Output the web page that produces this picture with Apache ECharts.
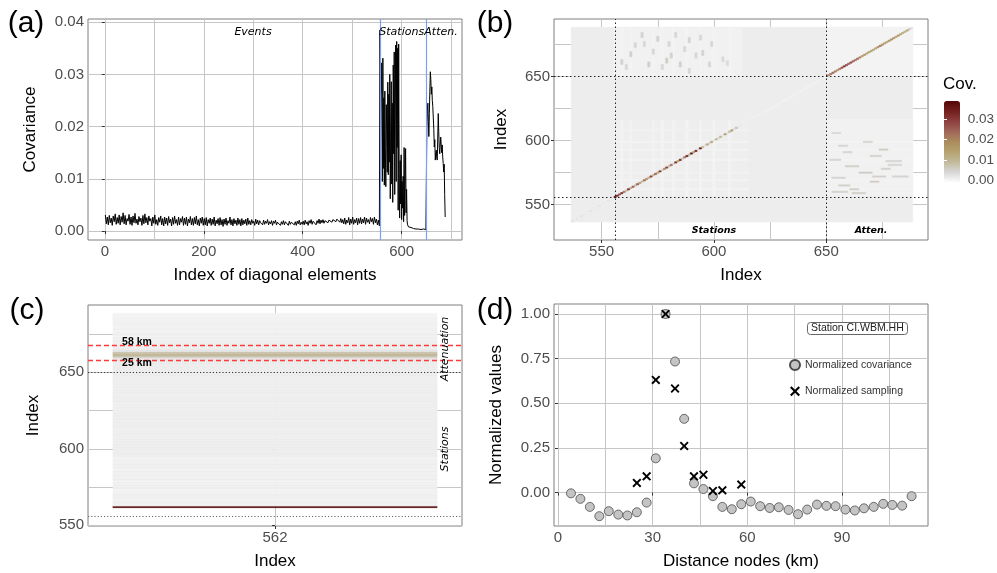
<!DOCTYPE html>
<html>
<head>
<meta charset="utf-8">
<script src="https://cdn.jsdelivr.net/npm/echarts@6/dist/echarts.min.js"></script>
<style>
html, body { margin: 0; padding: 0; background: #fff; }
#chart { width: 997px; height: 573px; }
</style>
</head>
<body>
<div id="chart"></div>
<script>
// ---------- (a) diagonal of the covariance matrix ----------
var eventsStart = 1, eventsStep = 2;
var eventsCov = [
  0.0031,0.0014,0.0027,0.0012,0.0030,0.0016,0.0025,0.0011,0.0029,0.0018,0.0033,0.0013,0.0026,0.0015,0.0031,0.0012,0.0028,0.0017,0.0035,0.0014,
  0.0030,0.0012,0.0024,0.0019,0.0032,0.0013,0.0027,0.0011,0.0029,0.0016,0.0034,0.0015,0.0023,0.0012,0.0028,0.0018,0.0025,0.0011,0.0030,0.0014,
  0.0033,0.0016,0.0026,0.0012,0.0029,0.0019,0.0024,0.0010,0.0027,0.0015,0.0031,0.0013,0.0022,0.0011,0.0026,0.0017,0.0029,0.0012,0.0024,0.0010,
  0.0027,0.0014,0.0025,0.0011,0.0028,0.0016,0.0023,0.0010,0.0026,0.0013,0.0029,0.0015,0.0022,0.0011,0.0027,0.0012,0.0024,0.0017,0.0028,0.0011,
  0.0025,0.0013,0.0027,0.0010,0.0023,0.0016,0.0028,0.0012,0.0024,0.0011,0.0026,0.0014,0.0029,0.0012,0.0022,0.0010,0.0025,0.0015,0.0027,0.0011,
  0.0024,0.0012,0.0026,0.0010,0.0022,0.0015,0.0025,0.0011,0.0023,0.0013,0.0027,0.0010,0.0021,0.0014,0.0024,0.0011,0.0026,0.0012,0.0022,0.0009,
  0.0023,0.0013,0.0025,0.0011,0.0020,0.0015,0.0027,0.0012,0.0022,0.0010,0.0024,0.0014,0.0021,0.0011,0.0025,0.0013,0.0022,0.0010,0.0024,0.0012,
  0.0021,0.0014,0.0023,0.0011,0.0025,0.0013,0.0020,0.0012,0.0022,0.0015,0.0019,0.0011,0.0023,0.0014,0.0021,0.0012,0.0020,0.0016,0.0018,0.0012,
  0.0021,0.0013,0.0019,0.0015,0.0022,0.0012,0.0018,0.0014,0.0020,0.0011,0.0019,0.0015,0.0021,0.0012,0.0017,0.0014,0.0020,0.0011,0.0018,0.0013,
  0.0020,0.0012,0.0018,0.0015,0.0021,0.0011,0.0019,0.0013,0.0017,0.0014,0.0020,0.0012,0.0018,0.0011,0.0019,0.0014,0.0021,0.0012,0.0017,0.0013,
  0.0019,0.0012,0.0021,0.0014,0.0018,0.0011,0.0020,0.0015,0.0022,0.0013,0.0019,0.0016,0.0021,0.0012,0.0020,0.0015,0.0023,0.0014,0.0021,0.0016,
  0.0022,0.0015,0.0020,0.0017,0.0023,0.0016,0.0021,0.0018,0.0024,0.0017,0.0022,0.0019,0.0025,0.0018,0.0023,0.0020,0.0022,0.0017,0.0024,0.0016,
  0.0022,0.0014,0.0025,0.0013,0.0021,0.0016,0.0026,0.0012,0.0023,0.0015,0.0027,0.0013,0.0022,0.0016,0.0025,0.0012,0.0024,0.0015,0.0026,0.0014,
  0.0023,0.0016,0.0027,0.0013,0.0025,0.0017,0.0022,0.0014,0.0026,0.0018,0.0024,0.0013,0.0027,0.0016,0.0023,0.0012,0.0021,0.0010
];
var stationsStart = 556;
var stationsCov = [
  0.0385,0.0330,0.0265,0.0322,0.0228,0.0095,0.0331,0.0120,0.0255,0.0088,
  0.0268,0.0160,0.0085,0.0242,0.0190,0.0113,0.0285,0.0108,0.0262,0.0132,
  0.0300,0.0062,0.0200,0.0286,0.0090,0.0245,0.0055,0.0318,0.0148,0.0343,
  0.0070,0.0230,0.0356,0.0095,0.0363,0.0160,0.0350,0.0040,0.0358,0.0110,
  0.0025,0.0135,0.0052,0.0146,0.0022,0.0095,0.0044,0.0105,0.0018,0.0160,
  0.0030,0.0090,0.0158,0.0035,0.0080,0.0020,0.0012,0.0010,0.0008,0.0011,
  0.0006,0.0009,0.0005,0.0007,0.0006,0.0008,0.0004,0.0006,0.0005,0.0007,
  0.0004,0.0006,0.0005,0.0004,0.0006,0.0005,0.0003,0.0005,0.0004,0.0006,
  0.0003,0.0004,0.0005,0.0003,0.0004,0.0003,0.0005,0.0003,0.0004,0.0003,
  0.0004,0.0003,0.0004,0.0003,0.0004
];
var attenStart = 651;
var attenCov = [
  0.0200,0.0232,0.0245,0.0210,0.0181,0.0225,0.0268,0.0305,0.0290,0.0262,
  0.0276,0.0250,0.0238,0.0240,0.0195,0.0161,0.0175,0.0136,0.0150,0.0155,
  0.0140,0.0136,0.0180,0.0225,0.0190,0.0160,0.0148,0.0165,0.0180,0.0178,
  0.0150,0.0165,0.0142,0.0130,0.0113,0.0128,0.0070,0.0027
];
var groupBounds = [556, 650];
var diagXTicks = [0, 200, 400, 600];
var diagXMinor = [100, 300, 500, 700];
var diagYTicks = [0, 0.01, 0.02, 0.03, 0.04];

// ---------- (b) covariance matrix, station + attenuation part ----------
// blocks: [col from, col to, row from, row to, covariance]
var hmBlocks = [
  [537, 688, 537, 688, 0.0011],
  [556, 612, 651, 688, 0.0005],
  [557, 615, 557, 615, 0.0009],
  [651, 688, 557, 616, 0.0006],
  [651, 688, 651, 688, 0.0003]
];
var stripeCols = [559, 563, 573, 577, 582, 588, 594, 600, 607];
var stripeRows = [608, 599, 593, 585, 575, 569, 562];
var stripeCov = 0.0003;
// vertical dashes above the stations: [col, row centre, covariance]
var dashesUL = [
  [559,662,0.0045],[561,658,0.0040],[563,668,0.0050],[565,675,0.0042],[568,683,0.0046],
  [569,676,0.0040],[571,660,0.0052],[573,670,0.0042],[575,680,0.0046],[577,658,0.0040],
  [579,663,0.0055],[580,676,0.0042],[581,667,0.0046],[583,683,0.0040],[585,660,0.0050],
  [587,672,0.0042],[589,679,0.0046],[589,655,0.0040],[592,667,0.0042],[594,681,0.0040],
  [595,669,0.0046],[598,660,0.0042],[599,676,0.0040],[604,664,0.0036],[606,661,0.0034]
];
// horizontal streaks right of the stations: [col from, col to, row, covariance]
var streaksLR = [
  [653,656,606,0.0040],[667,670,599,0.0050],[656,659,596,0.0045],[674,677,593,0.0055],
  [658,661,591,0.0045],[670,674,588,0.0050],[652,656,585,0.0045],[677,683,584,0.0045],
  [659,664,580,0.0055],[675,678,578,0.0050],[665,670,575,0.0055],[671,676,572,0.0050],
  [653,658,571,0.0045],[680,686,572,0.0045],[670,673,568,0.0055],[656,660,565,0.0050],
  [661,664,562,0.0055],[653,659,560,0.0050],[662,667,559,0.0055],[678,683,581,0.0045]
];
var hmTicks = [550, 600, 650];
var hmMinor = [575, 625, 675];
var covTicks = [0, 0.01, 0.02, 0.03];
var covColors = ['#fbfbfb','#d6d6d6','#c2b99a','#b5a26f','#ab8a5c','#a1665a','#8d3e3e','#731f1f','#560606'];

// ---------- (c) column of station index 562 ----------
var colStart = 562;
var colCov = [
  0.0385,
  0.0008,0.0004,0.0010,0.0006,0.0003,0.0009,0.0005,0.0011,0.0004,0.0007,
  0.0002,0.0009,0.0006,0.0010,0.0004,0.0008,0.0003,0.0011,0.0005,0.0007,
  0.0009,0.0004,0.0010,0.0006,0.0003,0.0008,0.0005,0.0011,0.0004,0.0009,
  0.0006,0.0002,0.0008,
  0.0011,0.0010,0.0011,0.0010,0.0010,0.0011,0.0010,0.0011,0.0011,0.0010,
  0.0010,0.0010,0.0010,0.0010,0.0010,0.0010,0.0010,0.0010,0.0010,0.0010,
  0.0010,0.0010,0.0010,0.0010,0.0010,0.0010,0.0010,0.0010,0.0010,0.0010,
  0.0010,0.0010,0.0010,0.0010,0.0010,0.0010,0.0010,0.0010,0.0010,0.0010,
  0.0010,0.0010,0.0010,0.0010,0.0010,0.0010,0.0010,0.0010,0.0010,0.0010,
  0.0010,0.0010,0.0010,0.0010,
  0.0011,0.0011,0.0011,0.0011,0.0011,0.0011,0.0012,0.0012,0.0014,0.0018,
  0.0055,0.0088,0.0096,0.0075,0.0025,
  0.0012,0.0009,0.0008,0.0008,0.0007,0.0008,0.0007,0.0007,0.0007,0.0006,
  0.0007,0.0007,0.0006,0.0006,0.0006,0.0005,0.0005,0.0005,0.0005,0.0004,
  0.0004,0.0004,0.0003,0.0003
];
var distRows = [668, 658];
var distLabels = ['58 km', '25 km'];

// ---------- (d) station CI.WBM.HH ----------
var distKm = [4.1,7.1,10.1,13.1,16.1,19.1,22.0,25.0,28.1,31.0,34.1,37.1,40.0,43.1,46.1,49.1,52.1,55.1,58.1,61.1,
              64.1,67.1,70.0,73.1,76.1,79.0,82.1,85.1,88.0,91.1,94.1,97.0,100.1,103.1,106.0,109.1,112.1];
var normCov = [-0.004,-0.035,-0.080,-0.132,-0.104,-0.123,-0.128,-0.110,-0.056,0.192,1.000,0.734,0.413,0.052,0.020,-0.020,-0.080,-0.093,-0.065,-0.050,
               -0.076,-0.086,-0.082,-0.097,-0.121,-0.095,-0.067,-0.074,-0.076,-0.095,-0.100,-0.088,-0.080,-0.063,-0.069,-0.073,-0.020];
var sampKm = [25.0,28.1,31.0,34.1,37.1,40.0,43.1,46.1,49.1,52.1,58.1];
var normSamp = [0.054,0.091,0.631,1.000,0.583,0.261,0.091,0.100,0.009,0.013,0.045];
var distTicks = [0, 30, 60, 90];
var distMinor = [15, 45, 75, 105];
var normTicks = [0, 0.25, 0.5, 0.75, 1];

// ---------- build series data ----------
var diagData = [];
eventsCov.forEach(function (v, i) { diagData.push([eventsStart + i * eventsStep, v]); });
stationsCov.forEach(function (v, i) { diagData.push([stationsStart + i, v]); });
attenCov.forEach(function (v, i) { diagData.push([attenStart + i, v]); });

var hmData = hmBlocks.slice();
stripeCols.forEach(function (c) {
  hmData.push([c, c, 557, 615, stripeCov]);
  hmData.push([c, c, 651, 688, stripeCov]);
});
stripeRows.forEach(function (r) {
  hmData.push([557, 615, r, r, stripeCov]);
  hmData.push([651, 688, r, r, stripeCov]);
});
dashesUL.forEach(function (d) { hmData.push([d[0], d[0], d[1] - 2, d[1] + 1, d[2]]); });
streaksLR.forEach(function (d) { hmData.push([d[0], d[1], d[2], d[2], d[3]]); });
diagData.forEach(function (d) { if (d[0] >= 537) hmData.push([d[0], d[0], d[0], d[0], d[1]]); });

var colData = colCov.map(function (v, i) { return [colStart + i, v]; });
var covData = distKm.map(function (x, i) { return [x, normCov[i]]; });
var sampData = sampKm.map(function (x, i) { return [x, normSamp[i]]; });

// ---------- styles ----------
var gridCol = '#c6c6c6', tickCol = '#333', labCol = '#4d4d4d';
var fix2 = function (v) { return v.toFixed(2); };

function mainAxis(o) {
  return {
    type: 'value', gridIndex: o.grid, position: o.pos, min: o.min, max: o.max,
    name: o.name, nameLocation: 'middle', nameGap: o.gap,
    nameTextStyle: { fontSize: 17, color: '#000' },
    axisLine: { show: false },
    axisTick: { show: true, length: 3, customValues: o.ticks, lineStyle: { color: tickCol } },
    axisLabel: { customValues: o.ticks, fontSize: 15, color: labCol, margin: 4, formatter: o.fmt },
    splitLine: { show: true, lineStyle: { color: gridCol, width: 1 } }
  };
}
function minorAxis(o) {
  return {
    type: 'value', gridIndex: o.grid, position: o.pos, min: o.min, max: o.max,
    axisLine: { show: false },
    axisTick: { show: false, customValues: o.ticks },
    axisLabel: { show: false, customValues: o.ticks },
    splitLine: { show: true, lineStyle: { color: gridCol, width: 1 } }
  };
}
function panelGrid(l, t, w, h) {
  return { left: l, top: t, width: w, height: h, show: true, borderColor: '#7f7f7f', borderWidth: 1, backgroundColor: '#fff' };
}
// cells get a thin stroke of their own colour so neighbouring rows leave no seams
function cellRect(params, api) {
  var p0 = api.coord([api.value(0) - 0.5, api.value(3) + 0.5]);
  var p1 = api.coord([api.value(1) + 0.5, api.value(2) - 0.5]);
  var c = api.visual('color');
  return { type: 'rect', shape: { x: p0[0], y: p0[1], width: p1[0] - p0[0], height: p1[1] - p0[1] },
           style: { fill: c, stroke: c, lineWidth: 0.6 } };
}
function colRect(params, api) {
  var p0 = api.coord([-0.5, api.value(0) + 0.5]);
  var p1 = api.coord([0.5, api.value(0) - 0.5]);
  var c = api.visual('color');
  return { type: 'rect', shape: { x: p0[0], y: p0[1], width: p1[0] - p0[0], height: p1[1] - p0[1] },
           style: { fill: c, stroke: c, lineWidth: 0.6 } };
}
function txt(x, y, s, font, rot) {
  return { type: 'text', x: x, y: y, rotation: rot || 0, z: 100,
           style: { text: s, font: font, fill: '#000', align: 'center', verticalAlign: 'middle',
                    textAlign: 'center', textVerticalAlign: 'middle' } };
}
var crossPath = 'path://M1.5,0 L5,3.5 L8.5,0 L10,1.5 L6.5,5 L10,8.5 L8.5,10 L5,6.5 L1.5,10 L0,8.5 L3.5,5 L0,1.5 Z';

var chart = echarts.init(document.getElementById('chart'));
var option = {
  animation: false,
  textStyle: { fontFamily: 'Liberation Sans' },
  grid: [
    panelGrid(88, 19, 374, 221),
    panelGrid(554, 19, 374, 221),
    panelGrid(88, 305, 374, 221),
    panelGrid(554, 304, 374, 222),
    { left: 944, top: 101, width: 16, height: 81, show: false }
  ],
  xAxis: [
    mainAxis({ grid: 0, pos: 'bottom', min: -34, max: 722, ticks: diagXTicks, name: 'Index of diagonal elements', gap: 27 }),
    minorAxis({ grid: 0, pos: 'top', min: -34, max: 722, ticks: diagXMinor }),
    mainAxis({ grid: 1, pos: 'bottom', min: 528.8, max: 695.3, ticks: hmTicks, name: 'Index', gap: 27 }),
    minorAxis({ grid: 1, pos: 'top', min: 528.8, max: 695.3, ticks: hmMinor }),
    mainAxis({ grid: 2, pos: 'bottom', min: -0.577, max: 0.577, ticks: [0], name: 'Index', gap: 27,
               fmt: function () { return String(colStart); } }),
    mainAxis({ grid: 3, pos: 'bottom', min: -1.27, max: 117.3, ticks: distTicks, name: 'Distance nodes (km)', gap: 27 }),
    minorAxis({ grid: 3, pos: 'top', min: -1.27, max: 117.3, ticks: distMinor }),
    { type: 'value', gridIndex: 4, show: false, min: 0, max: 1 }
  ],
  yAxis: [
    mainAxis({ grid: 0, pos: 'left', min: -0.0017, max: 0.0406, ticks: diagYTicks, name: 'Covariance', gap: 49, fmt: fix2 }),
    mainAxis({ grid: 1, pos: 'left', min: 522.4, max: 695, ticks: hmTicks, name: 'Index', gap: 44 }),
    minorAxis({ grid: 1, pos: 'right', min: 522.4, max: 695, ticks: hmMinor }),
    mainAxis({ grid: 2, pos: 'left', min: 549.5, max: 694, ticks: hmTicks, name: 'Index', gap: 46 }),
    minorAxis({ grid: 2, pos: 'right', min: 549.5, max: 694, ticks: hmMinor }),
    mainAxis({ grid: 3, pos: 'left', min: -0.187, max: 1.056, ticks: normTicks, name: 'Normalized values', gap: 49, fmt: fix2 }),
    { type: 'value', gridIndex: 4, position: 'right', min: -0.0008, max: 0.0389, z: 10,
      axisLine: { show: false }, splitLine: { show: false },
      axisTick: { show: true, inside: true, length: 3, customValues: covTicks, lineStyle: { color: '#fff' } },
      axisLabel: { customValues: covTicks, formatter: fix2, fontSize: 13.5, color: labCol, margin: 8 } },
    { type: 'value', gridIndex: 4, position: 'left', min: -0.0008, max: 0.0389, z: 10,
      axisLine: { show: false }, splitLine: { show: false },
      axisTick: { show: true, inside: true, length: 3, customValues: covTicks, lineStyle: { color: '#fff' } },
      axisLabel: { show: false, customValues: covTicks } }
  ],
  visualMap: [
    { type: 'continuous', min: -0.0008, max: 0.0389, dimension: 4, seriesIndex: 1,
      inRange: { color: covColors }, left: 944, top: 101, itemWidth: 16, itemHeight: 81,
      calculable: false, padding: 0, hoverLink: false, showLabel: false },
    { type: 'continuous', show: false, min: -0.0008, max: 0.0389, dimension: 1, seriesIndex: 3,
      inRange: { color: covColors } }
  ],
  legend: {
    left: 789, top: 359, padding: 0, orient: 'vertical', itemWidth: 10, itemHeight: 10, itemGap: 14.7,
    textStyle: { fontSize: 10.5, color: '#333' },
    data: ['Normalized covariance', 'Normalized sampling']
  },
  title: {
    text: 'Station CI.WBM.HH', left: 807, top: 322,
    textStyle: { fontSize: 10.5, fontWeight: 'normal', color: '#222' },
    borderColor: '#666', borderWidth: 1, borderRadius: 3, padding: [1, 4], backgroundColor: '#fff'
  },
  series: [
    { type: 'line', xAxisIndex: 0, yAxisIndex: 0, data: diagData, showSymbol: false,
      lineStyle: { color: '#000', width: 1 },
      markLine: { silent: true, symbol: 'none', label: { show: false },
                  lineStyle: { color: '#79a1ee', width: 1.2, type: 'solid' },
                  data: groupBounds.map(function (b) { return { xAxis: b }; }) } },
    { type: 'custom', xAxisIndex: 2, yAxisIndex: 1, data: hmData, renderItem: cellRect,
      encode: { x: [0, 1], y: [2, 3] } },
    { type: 'line', xAxisIndex: 2, yAxisIndex: 1, data: [],
      markLine: { silent: true, symbol: 'none', label: { show: false },
                  lineStyle: { color: '#222', width: 1, type: [1.5, 2.5] },
                  data: groupBounds.map(function (b) { return { xAxis: b }; })
                        .concat(groupBounds.map(function (b) { return { yAxis: b }; })) } },
    { type: 'custom', xAxisIndex: 4, yAxisIndex: 3, data: colData, renderItem: colRect, encode: { y: 0 } },
    { type: 'line', xAxisIndex: 4, yAxisIndex: 3, data: [],
      markLine: { silent: true, symbol: 'none', label: { show: false },
                  data: [
                    { yAxis: distRows[0], lineStyle: { color: '#ff3b3b', width: 1.3, type: [5, 3] } },
                    { yAxis: distRows[1], lineStyle: { color: '#ff3b3b', width: 1.3, type: [5, 3] } },
                    { yAxis: groupBounds[1], lineStyle: { color: '#333', width: 1, type: [1.2, 2] } },
                    { yAxis: groupBounds[0], lineStyle: { color: '#666', width: 1, type: [1.2, 2] } }
                  ] } },
    { name: 'Normalized covariance', type: 'scatter', xAxisIndex: 5, yAxisIndex: 5, data: covData,
      symbol: 'circle', symbolSize: 9,
      itemStyle: { color: '#c4c4c4', borderColor: '#4a4a4a', borderWidth: 0.8, opacity: 1 } },
    { name: 'Normalized sampling', type: 'scatter', xAxisIndex: 5, yAxisIndex: 5, data: sampData,
      symbol: crossPath, symbolSize: 9,
      itemStyle: { color: '#000', opacity: 1 } }
  ],
  graphic: [
    txt(26, 24, '(a)', '30px "Liberation Sans"'),
    txt(495, 24, '(b)', '30px "Liberation Sans"'),
    txt(27, 311, '(c)', '30px "Liberation Sans"'),
    txt(495, 311, '(d)', '30px "Liberation Sans"'),
    txt(253, 32, 'Events', 'italic 11px "DejaVu Sans"'),
    txt(401.7, 32, 'Stations', 'italic 11px "DejaVu Sans"'),
    txt(441, 32, 'Atten.', 'italic 11px "DejaVu Sans"'),
    txt(714, 231, 'Stations', 'italic bold 9.5px "DejaVu Sans"'),
    txt(871, 231, 'Atten.', 'italic bold 9.5px "DejaVu Sans"'),
    txt(137, 341.7, distLabels[0], 'bold 10.5px "Liberation Sans"'),
    txt(137, 363.3, distLabels[1], 'bold 10.5px "Liberation Sans"'),
    txt(445, 349, 'Attenuation', 'italic 11px "DejaVu Sans"', Math.PI / 2),
    txt(445, 449, 'Stations', 'italic 11px "DejaVu Sans"', Math.PI / 2),
    { type: 'text', left: 943, top: 76, z: 100, style: { text: 'Cov.', font: '17px "Liberation Sans"', fill: '#000' } }
  ]
};
chart.setOption(option);
</script>
</body>
</html>
